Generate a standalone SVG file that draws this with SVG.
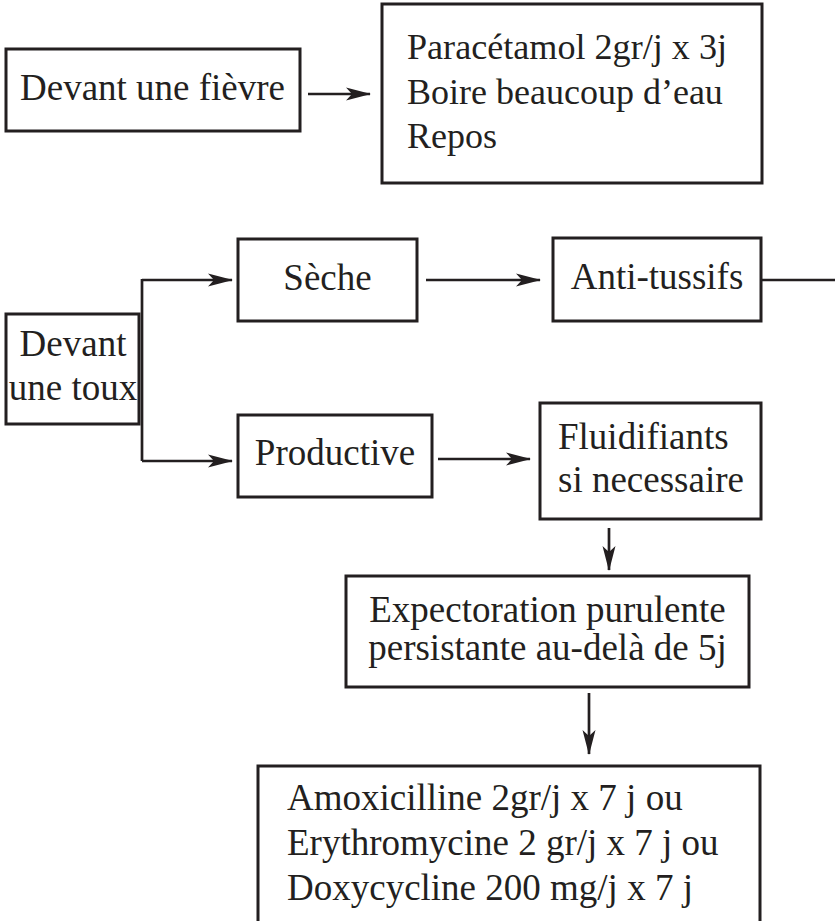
<svg xmlns="http://www.w3.org/2000/svg" width="835" height="921" viewBox="0 0 835 921">
  <style>
    .box { fill: #ffffff; stroke: #231f20; stroke-width: 3; }
    .lbl { font-family: "Liberation Serif", "Times New Roman", serif; font-size: 37px; fill: #231f20; }
    .sm { font-size: 36px; }
    .mid { text-anchor: middle; }
    .wire { fill: none; stroke: #231f20; stroke-width: 2.7; }
  </style>
  <defs>
    <marker id="head" markerUnits="userSpaceOnUse" markerWidth="30" markerHeight="20" orient="auto" overflow="visible" refX="0" refY="0">
      <path d="M1,0 L-24,-6.5 L-18,0 L-24,6.5 Z" fill="#231f20"/>
    </marker>
  </defs>
  <rect width="835" height="921" fill="#ffffff"/>

  <!-- connectors -->
  <g id="connectors">
    <path class="wire" d="M308,94 H370" marker-end="url(#head)"/>
    <path class="wire" d="M142,279 V461"/>
    <path class="wire" d="M142,280 H232" marker-end="url(#head)"/>
    <path class="wire" d="M142,461 H232" marker-end="url(#head)"/>
    <path class="wire" d="M426,280 H540" marker-end="url(#head)"/>
    <path class="wire" d="M761,280 H835"/>
    <path class="wire" d="M438,459 H530" marker-end="url(#head)"/>
    <path class="wire" d="M609,528 V570" marker-end="url(#head)"/>
    <path class="wire" d="M589,693 V754" marker-end="url(#head)"/>
  </g>

  <g id="fievre">
    <rect class="box" x="6" y="49" width="294" height="82"/>
    <text class="lbl" x="20" y="100">Devant une fièvre</text>
  </g>

  <g id="traitement-fievre">
    <rect class="box" x="382" y="4" width="380" height="179"/>
    <text class="lbl sm" x="407" y="59" textLength="320" lengthAdjust="spacingAndGlyphs">Paracétamol 2gr/j x 3j</text>
    <text class="lbl sm" x="407" y="104">Boire beaucoup d’eau</text>
    <text class="lbl sm" x="407" y="148">Repos</text>
  </g>

  <g id="toux">
    <rect class="box" x="6" y="314" width="133" height="110"/>
    <text class="lbl mid" x="73" y="356">Devant</text>
    <text class="lbl mid" x="73" y="400">une toux</text>
  </g>

  <g id="seche">
    <rect class="box" x="238" y="239" width="179" height="82"/>
    <text class="lbl mid" x="327.5" y="290">Sèche</text>
  </g>

  <g id="antitussifs">
    <rect class="box" x="553" y="238" width="208" height="83"/>
    <text class="lbl mid" x="657" y="289">Anti-tussifs</text>
  </g>

  <g id="productive">
    <rect class="box" x="238" y="415" width="194" height="82"/>
    <text class="lbl mid" x="335" y="465">Productive</text>
  </g>

  <g id="fluidifiants">
    <rect class="box" x="540" y="403" width="221" height="116"/>
    <text class="lbl" x="558" y="449">Fluidifiants</text>
    <text class="lbl" x="558" y="492">si necessaire</text>
  </g>

  <g id="expectoration">
    <rect class="box" x="346" y="576" width="403" height="111"/>
    <text class="lbl mid" x="547.5" y="622">Expectoration purulente</text>
    <text class="lbl mid" x="547.5" y="660">persistante au-delà de 5j</text>
  </g>

  <g id="antibiotiques">
    <rect class="box" x="258" y="766" width="502" height="180"/>
    <text class="lbl" x="287" y="810">Amoxicilline 2gr/j x 7 j ou</text>
    <text class="lbl" x="287" y="855">Erythromycine 2 gr/j x 7 j ou</text>
    <text class="lbl" x="287" y="900">Doxycycline 200 mg/j x 7 j</text>
  </g>
</svg>
